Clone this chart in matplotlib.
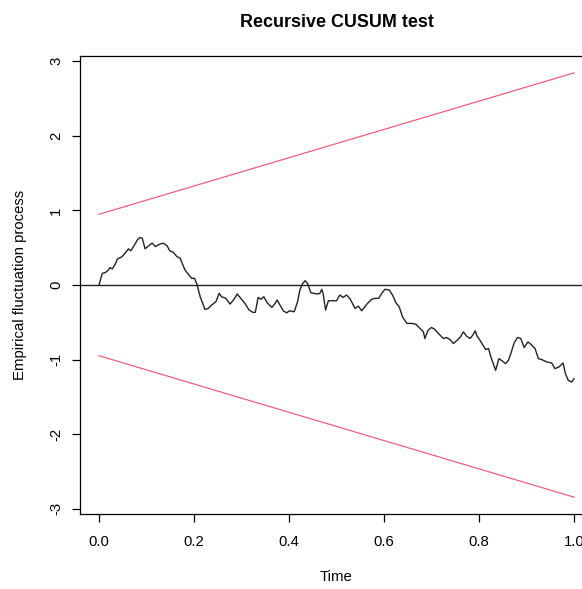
import numpy as np
import matplotlib
matplotlib.use("Agg")
import matplotlib.pyplot as plt

plt.rcParams['font.family'] = ['Liberation Sans', 'DejaVu Sans']

# empirical fluctuation process
time = [0.000, 0.007, 0.013, 0.020, 0.023, 0.028, 0.034, 0.039, 0.048, 0.055,
        0.062, 0.067, 0.074, 0.081, 0.086, 0.091, 0.097, 0.105, 0.112, 0.119,
        0.128, 0.135, 0.143, 0.149, 0.156, 0.164, 0.171, 0.175, 0.181, 0.188,
        0.195, 0.201, 0.206, 0.213, 0.223, 0.230, 0.237, 0.246, 0.253, 0.258,
        0.267, 0.276, 0.284, 0.291, 0.300, 0.307, 0.316, 0.324, 0.329, 0.335,
        0.341, 0.347, 0.354, 0.364, 0.371, 0.375, 0.381, 0.388, 0.395, 0.401,
        0.411, 0.418, 0.423, 0.428, 0.434, 0.439, 0.446, 0.453, 0.460, 0.465,
        0.469, 0.472, 0.477, 0.483, 0.490, 0.500, 0.507, 0.514, 0.521, 0.528,
        0.539, 0.546, 0.553, 0.564, 0.574, 0.581, 0.589, 0.596, 0.602, 0.611,
        0.618, 0.625, 0.632, 0.639, 0.648, 0.658, 0.667, 0.676, 0.683, 0.686,
        0.693, 0.700, 0.707, 0.716, 0.725, 0.732, 0.739, 0.746, 0.754, 0.761,
        0.767, 0.774, 0.781, 0.787, 0.792, 0.796, 0.802, 0.807, 0.814, 0.820,
        0.825, 0.830, 0.835, 0.842, 0.849, 0.856, 0.862, 0.867, 0.874, 0.881,
        0.888, 0.895, 0.903, 0.909, 0.918, 0.925, 0.932, 0.943, 0.953, 0.960,
        0.968, 0.977, 0.982, 0.988, 0.995, 1.000]
efp = [0.000, 0.157, 0.166, 0.202, 0.233, 0.215, 0.279, 0.350, 0.377, 0.427,
       0.485, 0.458, 0.529, 0.606, 0.637, 0.629, 0.485, 0.529, 0.561, 0.515,
       0.548, 0.561, 0.529, 0.458, 0.440, 0.381, 0.359, 0.292, 0.202, 0.144,
       0.090, 0.090, 0.013, -0.157, -0.327, -0.314, -0.269, -0.225, -0.112, -0.157,
       -0.179, -0.256, -0.192, -0.121, -0.192, -0.246, -0.336, -0.367, -0.367, -0.166,
       -0.192, -0.157, -0.238, -0.300, -0.246, -0.202, -0.269, -0.346, -0.373, -0.346,
       -0.359, -0.225, -0.067, 0.013, 0.058, 0.023, -0.104, -0.112, -0.121, -0.112,
       -0.058, -0.121, -0.336, -0.211, -0.211, -0.211, -0.135, -0.166, -0.135, -0.179,
       -0.314, -0.283, -0.346, -0.256, -0.192, -0.179, -0.179, -0.104, -0.058, -0.067,
       -0.135, -0.238, -0.292, -0.427, -0.515, -0.515, -0.525, -0.583, -0.629, -0.717,
       -0.606, -0.569, -0.596, -0.659, -0.717, -0.704, -0.731, -0.785, -0.740, -0.696,
       -0.629, -0.686, -0.717, -0.673, -0.615, -0.686, -0.740, -0.794, -0.865, -0.852,
       -0.965, -1.054, -1.144, -0.987, -1.019, -1.054, -1.009, -0.919, -0.777, -0.704,
       -0.717, -0.838, -0.763, -0.794, -0.852, -0.987, -1.000, -1.032, -1.046, -1.121,
       -1.100, -1.046, -1.188, -1.279, -1.301, -1.256]

# 5% boundary: lambda * (1 + 2t)
lam = 0.948
bound_t = [0.0, 1.0]
bound_upper = [lam, 3 * lam]
bound_lower = [-lam, -3 * lam]

xticks = [0.0, 0.2, 0.4, 0.6, 0.8, 1.0]
yticks = [-3, -2, -1, 0, 1, 2, 3]

W, H = 582, 589
fig = plt.figure(figsize=(W / 100, H / 100), dpi=100)
ax = fig.add_axes([80 / W, 1 - 514 / H, 513 / W, 458 / H])

ax.plot(time, efp, color='#222222', lw=1.0)
ax.plot(bound_t, bound_upper, color='#E8607A', lw=0.9)
ax.plot(bound_t, bound_lower, color='#E8607A', lw=0.9)
ax.axhline(0, color='#222222', lw=1.0)

ax.set_xlim(-0.04, 1.04)
ax.set_ylim(-3.07, 3.07)
ax.set_xticks(xticks)
ax.set_xticklabels(['0.0', '0.2', '0.4', '0.6', '0.8', '1.0'])
ax.set_yticks(yticks)
ax.set_yticklabels([str(v) for v in yticks], rotation=90, va='center')
ax.tick_params(axis='both', direction='out', length=6, width=0.9,
               labelsize=10.7)
ax.tick_params(axis='x', pad=9)
ax.tick_params(axis='y', pad=6)
for s in ax.spines.values():
    s.set_linewidth(0.9)

ax.set_title('Recursive CUSUM test', fontsize=12.9, fontweight='bold', pad=21)
ax.set_xlabel('Time', fontsize=10.7, labelpad=15)
ax.set_ylabel('Empirical fluctuation process', fontsize=10.7, labelpad=16)

fig.savefig('out.png', dpi=100)
